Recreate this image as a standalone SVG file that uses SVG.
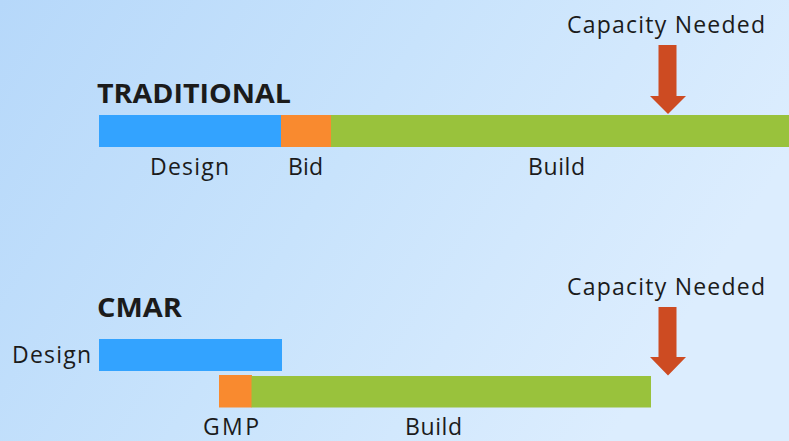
<svg xmlns="http://www.w3.org/2000/svg" width="789" height="441" viewBox="0 0 789 441">
<defs>
<linearGradient id="bg" x1="0" y1="0" x2="1" y2="0.35">
<stop offset="0" stop-color="#b6d8fa"/>
<stop offset="0.5" stop-color="#c8e3fc"/>
<stop offset="1" stop-color="#dcedfe"/>
</linearGradient>
<style>
.t{font-family:"Open Sans","Noto Sans","DejaVu Sans",sans-serif;fill:#1b1b1b;font-size:23px}
.h{font-family:"Open Sans","Noto Sans","DejaVu Sans",sans-serif;fill:#1b1b1b;font-size:27px;font-weight:bold}
.design{fill:#33a3ff}
.bid{fill:#f98a2f}
.build{fill:#99c23c}
.arrow{fill:#cd4b22}
</style>
</defs>
<rect width="789" height="441" fill="url(#bg)"/>
<g id="traditional">
<text class="h" x="97" y="103" textLength="194" lengthAdjust="spacingAndGlyphs">TRADITIONAL</text>
<g id="trad-design"><rect class="design" x="99" y="115" width="182" height="32"/><text class="t" x="150" y="175" textLength="79">Design</text></g>
<g id="trad-bid"><rect class="bid" x="281" y="115" width="50" height="32"/><text class="t" x="288" y="175" textLength="35">Bid</text></g>
<g id="trad-build"><rect class="build" x="331" y="115" width="458" height="32"/><text class="t" x="528" y="175" textLength="57">Build</text></g>
<g id="trad-capacity"><text class="t" x="567" y="33" textLength="198">Capacity Needed</text><polygon class="arrow" points="658.5,45 676.5,45 676.5,96 686,96 668,114 650,96 658.5,96"/></g>
</g>
<g id="cmar">
<text class="h" x="97" y="317" textLength="85" lengthAdjust="spacingAndGlyphs">CMAR</text>
<g id="cmar-design"><rect class="design" x="99" y="339" width="183" height="32"/><text class="t" x="12" y="363" textLength="79">Design</text></g>
<g id="cmar-gmp"><rect class="bid" x="219" y="375" width="33" height="32.5"/><text class="t" x="203" y="435" textLength="56">GMP</text></g>
<g id="cmar-build"><rect class="build" x="251.5" y="376" width="399.5" height="31.5"/><text class="t" x="405" y="435" textLength="57">Build</text></g>
<g id="cmar-capacity"><text class="t" x="567" y="295" textLength="198">Capacity Needed</text><polygon class="arrow" points="658.5,307 676.5,307 676.5,357 686,357 668,375.5 650,357 658.5,357"/></g>
</g>
<g id="connectors"/>
</svg>
